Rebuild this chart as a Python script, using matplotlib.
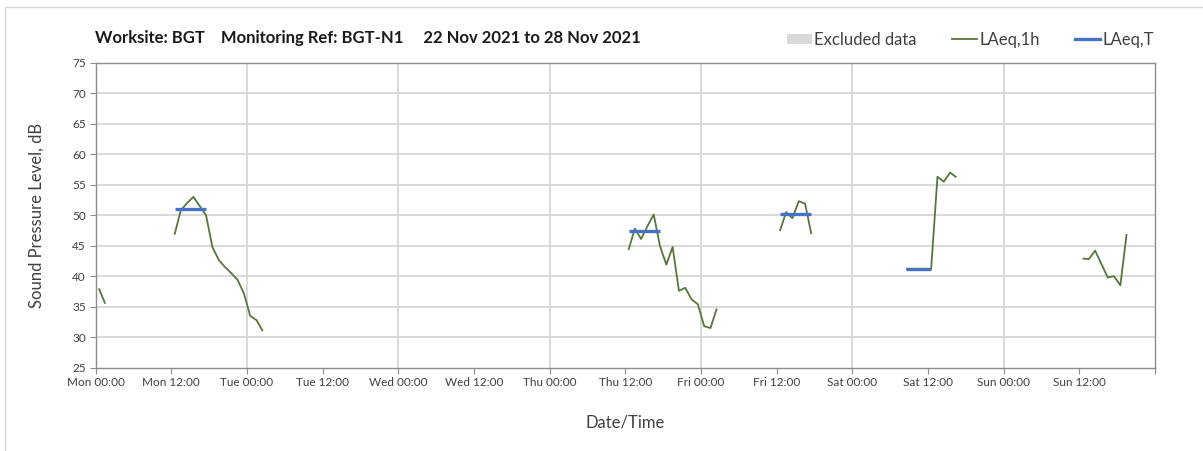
import numpy as np
import matplotlib
matplotlib.use("Agg")
import matplotlib.pyplot as plt
from matplotlib.patches import Patch, Rectangle
from matplotlib.lines import Line2D

plt.rcParams['font.family'] = ['Lato', 'DejaVu Sans']

# ---- data (hours since Mon 00:00) ----
seg_start = [0.5, 12.5, 84.5, 108.5, 128.5, 156.5]
seg_values = [
    [38.0, 35.5],
    [46.8, 50.8, 52.0, 53.0, 51.5, 50.0, 44.8, 42.7, 41.5, 40.5, 39.4, 37.2, 33.5, 32.8, 31.0],
    [44.3, 47.8, 46.1, 48.2, 50.1, 44.9, 41.9, 44.8, 37.6, 38.1, 36.2, 35.4, 31.8, 31.5, 34.7],
    [47.4, 50.5, 49.5, 52.3, 51.9, 46.9],
    [41.2, 41.2, 41.2, 41.2, 41.2, 56.3, 55.5, 57.0, 56.2],
    [42.9, 42.8, 44.2, 42.0, 39.8, 40.0, 38.5, 46.9],
]
laeqT_start = [12.5, 84.5, 108.5, 128.5]
laeqT_end = [17.5, 89.5, 113.5, 132.5]
laeqT_values = [51.0, 47.4, 50.2, 41.2]

tick_hours = list(range(0, 168, 12))
tick_labels = ["Mon 00:00", "Mon 12:00", "Tue 00:00", "Tue 12:00", "Wed 00:00", "Wed 12:00",
               "Thu 00:00", "Thu 12:00", "Fri 00:00", "Fri 12:00", "Sat 00:00", "Sat 12:00",
               "Sun 00:00", "Sun 12:00"]

title = "Worksite: BGT    Monitoring Ref: BGT-N1     22 Nov 2021 to 28 Nov 2021"

GREEN = "#55783a"
BLUE = "#4472c4"
GRID = "#d9d9d9"
SPINE = "#8c8c8c"

fig = plt.figure(figsize=(12.03, 4.51), dpi=100)
# outer frame
fig.patches.append(Rectangle((5/1203, -0.05), 1.2, 1 - 7/451 + 0.05, transform=fig.transFigure,
                             fill=False, edgecolor="#d9d9d9", linewidth=1.0))

ax = fig.add_axes([95.7/1203, 1 - 367.7/451, (1155 - 95.7)/1203, (367.7 - 62.7)/451])

ax.set_xlim(0, 168)
ax.set_ylim(25, 75)
ax.set_yticks(np.arange(25, 76, 5))
ax.set_xticks(tick_hours + [168])
ax.set_xticklabels(tick_labels + [""])

for yv in np.arange(30, 75, 5):
    ax.axhline(yv, color=GRID, lw=1.4, zorder=0)
for xv in range(24, 168, 24):
    ax.axvline(xv, color=GRID, lw=1.4, zorder=0)

for s in ax.spines.values():
    s.set_color(SPINE)
    s.set_linewidth(1.0)

ax.tick_params(axis='x', which='major', direction='out', length=4, color=SPINE,
               labelsize=8.5, labelcolor="#404040", pad=3)
ax.tick_params(axis='y', direction='out', length=4, color=SPINE, labelsize=8.5,
               labelcolor="#404040", pad=3)

for st, vals in zip(seg_start, seg_values):
    xs = st + np.arange(len(vals))
    ax.plot(xs, vals, color=GREEN, lw=1.3, zorder=3, solid_capstyle='butt')

for a, b, v in zip(laeqT_start, laeqT_end, laeqT_values):
    ax.plot([a, b], [v, v], color=BLUE, lw=2.4, zorder=4, solid_capstyle='butt')

ax.set_ylabel("Sound Pressure Level, dB", fontsize=12, color="#404040", labelpad=20)
ax.set_xlabel("Date/Time", fontsize=12, color="#404040", labelpad=19)

fig.text(95/1203, 1 - 38/451, title, fontsize=12, fontweight='bold', color="#1a1a1a",
         ha='left', va='center')

handles = [Patch(facecolor="#d9d9d9", edgecolor="none"),
           Line2D([], [], color=GREEN, lw=1.3),
           Line2D([], [], color=BLUE, lw=2.4)]
fig.legend(handles, ["Excluded data", "LAeq,1h", "LAeq,T"], ncol=3, frameon=False,
           loc='center left', bbox_to_anchor=(772/1203, 1 - 40/451), fontsize=12,
           handlelength=1.5, handleheight=0.6, handletextpad=0.15, columnspacing=2.1,
           labelcolor="#404040")

fig.savefig("out.png", dpi=100)
